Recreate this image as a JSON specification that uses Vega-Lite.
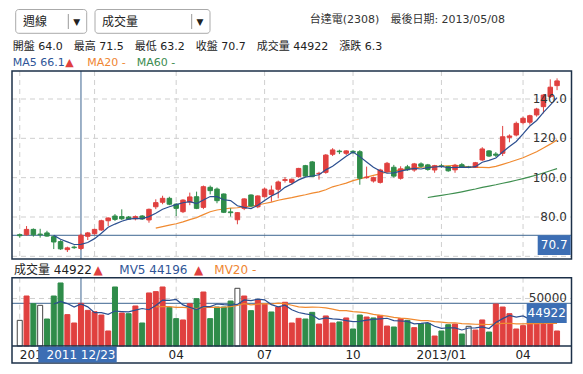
{
"$schema":"https://vega.github.io/schema/vega-lite/v6.json",
"width":583,"height":374,"padding":0,"autosize":{"type":"none"},"background":"white",
"config":{"view":{"stroke":null},"text":{"font":"DejaVu Sans, Noto Sans CJK TC, sans-serif"}},
"data":{"values":[
{"i":0,"o":71.0,"h":71.5,"l":69.5,"c":70.5,"v":27000,"chg":0,"d":"d","vd":"f"},
{"i":1,"o":71.0,"h":75.4,"l":70.5,"c":73.7,"v":52600,"chg":3.2,"d":"u","vd":"u"},
{"i":2,"o":73.7,"h":74.2,"l":70.0,"c":71.0,"v":44500,"chg":-2.7,"d":"d","vd":"d"},
{"i":3,"o":71.3,"h":74.0,"l":69.5,"c":71.0,"v":42800,"chg":0,"d":"d","vd":"f"},
{"i":4,"o":71.9,"h":73.0,"l":70.0,"c":70.3,"v":28400,"chg":-0.7,"d":"d","vd":"d"},
{"i":5,"o":70.0,"h":70.7,"l":63.7,"c":67.3,"v":52600,"chg":-3.0,"d":"d","vd":"d","ma5":70.66,"mv5":44180},
{"i":6,"o":67.5,"h":68.2,"l":63.3,"c":63.8,"v":66300,"chg":-3.5,"d":"d","vd":"d","ma5":68.68,"mv5":46920},
{"i":7,"o":63.4,"h":64.9,"l":62.2,"c":64.3,"v":33000,"chg":0.5,"d":"u","vd":"u","ma5":67.34,"mv5":44620},
{"i":8,"o":64.7,"h":65.5,"l":63.8,"c":64.4,"v":24200,"chg":0.1,"d":"d","vd":"u","ma5":66.02,"mv5":40900},
{"i":9,"o":64.0,"h":71.5,"l":63.2,"c":70.7,"v":44922,"chg":6.3,"d":"u","vd":"u","ma5":66.1,"mv5":44196},
{"i":10,"o":70.2,"h":72.4,"l":68.3,"c":71.9,"v":37500,"chg":1.2,"d":"u","vd":"u","ma5":67.02,"mv5":41180},
{"i":11,"o":71.5,"h":74.0,"l":71.0,"c":73.7,"v":36100,"chg":1.8,"d":"u","vd":"u","ma5":69.0,"mv5":35140},
{"i":12,"o":73.4,"h":78.6,"l":73.0,"c":78.1,"v":32600,"chg":4.4,"d":"u","vd":"u","ma5":71.76,"mv5":35060},
{"i":13,"o":78.1,"h":79.8,"l":75.4,"c":79.5,"v":15800,"chg":1.4,"d":"u","vd":"u","ma5":74.78,"mv5":33380},
{"i":14,"o":80.5,"h":81.5,"l":78.0,"c":78.8,"v":62100,"chg":-0.7,"d":"d","vd":"d","ma5":76.4,"mv5":36820},
{"i":15,"o":80.2,"h":83.9,"l":78.5,"c":79.1,"v":34700,"chg":0.3,"d":"d","vd":"u","ma5":77.84,"mv5":36260},
{"i":16,"o":80.0,"h":80.5,"l":78.5,"c":78.9,"v":34000,"chg":-0.2,"d":"d","vd":"d","ma5":78.88,"mv5":35840},
{"i":17,"o":79.1,"h":80.8,"l":78.3,"c":80.2,"v":42100,"chg":1.3,"d":"u","vd":"u","ma5":79.3,"mv5":37740},
{"i":18,"o":80.5,"h":81.0,"l":78.5,"c":79.0,"v":24200,"chg":-1.2,"d":"d","vd":"d","ma5":79.2,"mv5":39420},
{"i":19,"o":78.5,"h":84.3,"l":77.1,"c":83.9,"v":55800,"chg":4.9,"d":"u","vd":"u","ma5":80.22,"mv5":38160},
{"i":20,"o":85.2,"h":89.0,"l":84.0,"c":87.3,"v":57200,"chg":3.4,"d":"u","vd":"u","ma5":81.86,"ma20":74.35,"mv5":42660,"mv20":41070},
{"i":21,"o":87.5,"h":90.8,"l":86.5,"c":89.5,"v":62100,"chg":2.2,"d":"u","vd":"u","ma5":83.98,"ma20":75.14,"mv5":48280,"mv20":41550},
{"i":22,"o":89.5,"h":90.3,"l":86.0,"c":86.5,"v":40700,"chg":-3.0,"d":"d","vd":"d","ma5":85.24,"ma20":75.91,"mv5":48000,"mv20":41360},
{"i":23,"o":86.5,"h":87.0,"l":80.5,"c":84.4,"v":28800,"chg":-2.1,"d":"d","vd":"d","ma5":86.32,"ma20":76.58,"mv5":48920,"mv20":40660},
{"i":24,"o":82.7,"h":89.0,"l":82.0,"c":88.6,"v":27400,"chg":4.2,"d":"u","vd":"u","ma5":87.26,"ma20":77.5,"mv5":43240,"mv20":40610},
{"i":25,"o":87.6,"h":92.4,"l":86.0,"c":90.2,"v":44500,"chg":1.6,"d":"u","vd":"u","ma5":87.84,"ma20":78.64,"mv5":40700,"mv20":40200},
{"i":26,"o":90.3,"h":92.9,"l":84.0,"c":84.4,"v":49800,"chg":-5.8,"d":"d","vd":"d","ma5":86.82,"ma20":79.67,"mv5":38240,"mv20":39380},
{"i":27,"o":84.9,"h":96.0,"l":84.0,"c":95.4,"v":56800,"chg":11.0,"d":"u","vd":"u","ma5":88.6,"ma20":81.23,"mv5":41460,"mv20":40570},
{"i":28,"o":95.1,"h":96.0,"l":91.5,"c":93.4,"v":28800,"chg":-2.0,"d":"d","vd":"d","ma5":90.4,"ma20":82.68,"mv5":41460,"mv20":40800},
{"i":29,"o":94.2,"h":95.0,"l":87.0,"c":88.3,"v":41000,"chg":-5.1,"d":"d","vd":"d","ma5":90.34,"ma20":83.56,"mv5":44180,"mv20":40600},
{"i":30,"o":91.7,"h":92.0,"l":82.0,"c":82.4,"v":41000,"chg":-5.9,"d":"d","vd":"d","ma5":88.78,"ma20":84.08,"mv5":43480,"mv20":40780},
{"i":31,"o":82.6,"h":84.4,"l":80.2,"c":82.2,"v":47300,"chg":-0.2,"d":"d","vd":"d","ma5":88.34,"ma20":84.5,"mv5":42980,"mv20":41340},
{"i":32,"o":78.6,"h":82.5,"l":76.3,"c":82.2,"v":60700,"chg":0,"d":"u","vd":"f","ma5":85.7,"ma20":84.71,"mv5":43760,"mv20":42740},
{"i":33,"o":84.4,"h":89.5,"l":83.5,"c":89.2,"v":52600,"chg":7.0,"d":"u","vd":"u","ma5":84.86,"ma20":85.2,"mv5":48520,"mv20":44580},
{"i":34,"o":91.2,"h":91.5,"l":85.0,"c":85.6,"v":37200,"chg":-3.6,"d":"d","vd":"d","ma5":84.32,"ma20":85.54,"mv5":47760,"mv20":43340},
{"i":35,"o":85.2,"h":91.0,"l":84.5,"c":90.7,"v":48400,"chg":5.1,"d":"u","vd":"u","ma5":85.98,"ma20":86.12,"mv5":49240,"mv20":44020},
{"i":36,"o":90.3,"h":95.0,"l":90.0,"c":94.2,"v":43800,"chg":3.5,"d":"u","vd":"u","ma5":88.38,"ma20":86.88,"mv5":48540,"mv20":44510},
{"i":37,"o":91.4,"h":96.0,"l":87.8,"c":93.7,"v":35800,"chg":-0.5,"d":"u","vd":"d","ma5":90.68,"ma20":87.56,"mv5":43560,"mv20":44200},
{"i":38,"o":94.1,"h":98.5,"l":89.5,"c":97.8,"v":41000,"chg":4.1,"d":"u","vd":"u","ma5":92.4,"ma20":88.5,"mv5":41240,"mv20":45040},
{"i":39,"o":98.6,"h":100.3,"l":97.5,"c":99.0,"v":46000,"chg":1.2,"d":"u","vd":"u","ma5":95.08,"ma20":89.25,"mv5":43000,"mv20":44550},
{"i":40,"o":97.6,"h":99.5,"l":96.5,"c":99.2,"v":24200,"chg":0.2,"d":"u","vd":"u","ma5":96.78,"ma20":89.85,"mv5":38160,"mv20":42900},
{"i":41,"o":100.5,"h":105.0,"l":100.0,"c":104.7,"v":29100,"chg":5.5,"d":"u","vd":"u","ma5":98.88,"ma20":90.61,"mv5":35220,"mv20":41250},
{"i":42,"o":106.1,"h":106.5,"l":100.5,"c":100.8,"v":28400,"chg":-3.9,"d":"d","vd":"d","ma5":100.3,"ma20":91.32,"mv5":33740,"mv20":40630},
{"i":43,"o":108.0,"h":108.5,"l":100.3,"c":100.6,"v":35400,"chg":-0.2,"d":"d","vd":"d","ma5":100.86,"ma20":92.13,"mv5":32620,"mv20":40960},
{"i":44,"o":102.0,"h":103.0,"l":99.0,"c":102.2,"v":23100,"chg":1.6,"d":"u","vd":"u","ma5":101.5,"ma20":92.81,"mv5":28040,"mv20":40750},
{"i":45,"o":102.7,"h":112.0,"l":102.0,"c":111.5,"v":31600,"chg":9.3,"d":"u","vd":"u","ma5":103.96,"ma20":93.88,"mv5":29520,"mv20":40100},
{"i":46,"o":111.9,"h":115.0,"l":111.0,"c":114.1,"v":24200,"chg":2.6,"d":"u","vd":"u","ma5":105.84,"ma20":95.36,"mv5":28540,"mv20":38820},
{"i":47,"o":113.5,"h":114.2,"l":112.0,"c":113.2,"v":25300,"chg":-0.9,"d":"d","vd":"d","ma5":108.32,"ma20":96.25,"mv5":27920,"mv20":37250},
{"i":48,"o":112.4,"h":114.0,"l":111.5,"c":113.6,"v":29500,"chg":0.4,"d":"u","vd":"u","ma5":110.92,"ma20":97.26,"mv5":26740,"mv20":37280},
{"i":49,"o":113.4,"h":114.0,"l":112.0,"c":112.9,"v":17900,"chg":-0.7,"d":"d","vd":"d","ma5":113.06,"ma20":98.49,"mv5":25700,"mv20":36130},
{"i":50,"o":113.2,"h":114.0,"l":96.4,"c":99.7,"v":32600,"chg":-13.2,"d":"d","vd":"d","ma5":110.7,"ma20":99.36,"mv5":25900,"mv20":35710},
{"i":51,"o":100.0,"h":105.6,"l":99.5,"c":100.3,"v":30500,"chg":0.6,"d":"u","vd":"u","ma5":107.94,"ma20":100.26,"mv5":27160,"mv20":34870},
{"i":52,"o":98.3,"h":100.5,"l":97.5,"c":100.0,"v":29500,"chg":-0.3,"d":"u","vd":"d","ma5":105.3,"ma20":101.15,"mv5":28000,"mv20":33310},
{"i":53,"o":97.6,"h":104.5,"l":97.0,"c":103.9,"v":32300,"chg":3.9,"d":"u","vd":"u","ma5":103.36,"ma20":101.89,"mv5":28560,"mv20":32290},
{"i":54,"o":103.0,"h":108.0,"l":102.5,"c":107.3,"v":21000,"chg":3.4,"d":"u","vd":"u","ma5":102.24,"ma20":102.97,"mv5":29180,"mv20":31480},
{"i":55,"o":105.3,"h":106.5,"l":100.0,"c":100.8,"v":20000,"chg":-6.5,"d":"d","vd":"d","ma5":102.46,"ma20":103.48,"mv5":26660,"mv20":30060},
{"i":56,"o":99.7,"h":105.8,"l":99.0,"c":104.5,"v":28800,"chg":3.7,"d":"u","vd":"u","ma5":103.3,"ma20":103.99,"mv5":26320,"mv20":29310},
{"i":57,"o":105.5,"h":106.5,"l":103.5,"c":104.0,"v":27000,"chg":-0.5,"d":"d","vd":"d","ma5":104.1,"ma20":104.51,"mv5":25820,"mv20":28870},
{"i":58,"o":103.9,"h":107.5,"l":103.0,"c":107.0,"v":19300,"chg":3.0,"d":"u","vd":"u","ma5":104.72,"ma20":104.97,"mv5":23220,"mv20":27790},
{"i":59,"o":107.0,"h":107.8,"l":105.0,"c":105.8,"v":23500,"chg":-1.2,"d":"d","vd":"d","ma5":104.42,"ma20":105.31,"mv5":23720,"mv20":26660},
{"i":60,"o":106.5,"h":107.0,"l":103.5,"c":104.2,"v":23800,"chg":-1.6,"d":"d","vd":"d","ma5":105.1,"ma20":105.56,"ma60":89.92,"mv5":24480,"mv20":26640},
{"i":61,"o":103.9,"h":106.5,"l":102.5,"c":106.1,"v":10500,"chg":1.9,"d":"u","vd":"u","ma5":105.42,"ma20":105.63,"ma60":90.46,"mv5":20820,"mv20":25710},
{"i":62,"o":106.0,"h":107.0,"l":105.0,"c":105.7,"v":15800,"chg":-0.4,"d":"d","vd":"d","ma5":105.76,"ma20":105.87,"ma60":91.03,"mv5":18580,"mv20":25080},
{"i":63,"o":105.6,"h":106.0,"l":103.0,"c":103.5,"v":22400,"chg":-2.2,"d":"d","vd":"d","ma5":105.06,"ma20":106.02,"ma60":91.58,"mv5":19200,"mv20":24430},
{"i":64,"o":104.0,"h":107.0,"l":102.5,"c":106.3,"v":23100,"chg":2.8,"d":"u","vd":"u","ma5":105.16,"ma20":106.22,"ma60":92.18,"mv5":19120,"mv20":24430},
{"i":65,"o":106.6,"h":107.5,"l":105.0,"c":105.3,"v":12600,"chg":-1.0,"d":"d","vd":"d","ma5":105.38,"ma20":105.91,"ma60":92.81,"mv5":16880,"mv20":23480},
{"i":66,"o":105.4,"h":106.0,"l":104.8,"c":105.3,"v":20700,"chg":0,"d":"d","vd":"f","ma5":105.22,"ma20":105.47,"ma60":93.5,"mv5":18920,"mv20":23310},
{"i":67,"o":105.3,"h":108.0,"l":105.0,"c":107.6,"v":16800,"chg":2.3,"d":"u","vd":"u","ma5":105.6,"ma20":105.19,"ma60":94.22,"mv5":19120,"mv20":22880},
{"i":68,"o":109.0,"h":115.5,"l":108.5,"c":114.6,"v":27400,"chg":7.0,"d":"u","vd":"u","ma5":107.82,"ma20":105.24,"ma60":95.06,"mv5":20120,"mv20":22780},
{"i":69,"o":113.6,"h":114.0,"l":110.5,"c":111.0,"v":14700,"chg":-3.6,"d":"d","vd":"d","ma5":108.76,"ma20":105.15,"ma60":95.73,"mv5":18440,"mv20":22620},
{"i":70,"o":112.0,"h":113.0,"l":110.5,"c":111.4,"v":44200,"chg":0.4,"d":"d","vd":"u","ma5":109.98,"ma20":105.73,"ma60":96.39,"mv5":24760,"mv20":23200},
{"i":71,"o":112.4,"h":126.3,"l":111.0,"c":120.8,"v":41000,"chg":9.4,"d":"u","vd":"u","ma5":113.08,"ma20":106.76,"ma60":97.17,"mv5":28820,"mv20":23720},
{"i":72,"o":120.5,"h":122.0,"l":118.0,"c":121.2,"v":34000,"chg":0.4,"d":"u","vd":"u","ma5":115.8,"ma20":107.82,"ma60":97.89,"mv5":32260,"mv20":23950},
{"i":73,"o":121.7,"h":128.5,"l":121.0,"c":127.6,"v":17900,"chg":6.4,"d":"u","vd":"u","ma5":118.4,"ma20":109.0,"ma60":98.69,"mv5":30360,"mv20":23230},
{"i":74,"o":128.0,"h":131.0,"l":127.0,"c":130.2,"v":21400,"chg":2.6,"d":"u","vd":"u","ma5":122.24,"ma20":110.15,"ma60":99.55,"mv5":31700,"mv20":23250},
{"i":75,"o":128.2,"h":132.0,"l":127.0,"c":131.5,"v":26000,"chg":1.3,"d":"u","vd":"u","ma5":126.26,"ma20":111.68,"ma60":100.42,"mv5":28060,"mv20":23550},
{"i":76,"o":131.9,"h":135.5,"l":131.0,"c":134.9,"v":28000,"chg":3.4,"d":"u","vd":"u","ma5":129.08,"ma20":113.2,"ma60":101.36,"mv5":25460,"mv20":23510},
{"i":77,"o":136.1,"h":142.5,"l":132.7,"c":142.0,"v":30000,"chg":7.1,"d":"u","vd":"u","ma5":133.24,"ma20":115.1,"ma60":102.39,"mv5":24660,"mv20":23660},
{"i":78,"o":141.2,"h":150.0,"l":140.5,"c":146.0,"v":27000,"chg":4.0,"d":"u","vd":"u","ma5":136.92,"ma20":117.05,"ma60":103.5,"mv5":26480,"mv20":24040},
{"i":79,"o":146.8,"h":150.5,"l":144.5,"c":149.2,"v":15800,"chg":3.2,"d":"u","vd":"u","ma5":140.72,"ma20":119.22,"ma60":104.59,"mv5":25360,"mv20":23660}
]},
"resolve":{"scale":{"y":"independent"}},
"layer":[
{"data":{"values":[{"p":60},{"p":80},{"p":100},{"p":120},{"p":140}]},"mark":{"type":"rule","stroke":"#cfcfcf","strokeDash":[5,4],"strokeWidth":1},
 "encoding":{"y":{"field":"p","type":"quantitative","scale":{"domain":[0.17,190.34],"nice":false,"zero":false},"axis":null},"x":{"value":12},"x2":{"value":571.5}}},
{"data":{"values":[{"i":0},{"i":11},{"i":23},{"i":36},{"i":49},{"i":62},{"i":74}]},"mark":{"type":"rule","stroke":"#cfcfcf","strokeDash":[5,4],"strokeWidth":1},
 "encoding":{"x":{"field":"i","type":"quantitative","scale":{"domain":[-2.17,82.08],"nice":false,"zero":false},"axis":null},"y":{"value":71},"y2":{"value":259}}},
{"data":{"values":[{"i":0},{"i":11},{"i":23},{"i":36},{"i":49},{"i":62},{"i":74}]},"mark":{"type":"rule","stroke":"#cfcfcf","strokeDash":[5,4],"strokeWidth":1},
 "encoding":{"x":{"field":"i","type":"quantitative","scale":{"domain":[-2.17,82.08],"nice":false,"zero":false},"axis":null},"y":{"value":277.7},"y2":{"value":346}}},
{"data":{"values":[{"v":50000}]},"mark":{"type":"rule","stroke":"#cfcfcf","strokeDash":[5,4],"strokeWidth":1},
 "encoding":{"y":{"field":"v","type":"quantitative","scale":{"domain":[-29458,364019],"nice":false,"zero":false},"axis":null},"x":{"value":12},"x2":{"value":571.5}}},
{"data":{"values":[{"i":9,"c":70.7,"v":44922}]},"mark":{"type":"rule","stroke":"#3d6590","strokeWidth":1},
 "encoding":{"y":{"field":"c","type":"quantitative","scale":{"domain":[0.17,190.34],"nice":false,"zero":false},"axis":null},"x":{"value":12},"x2":{"value":571.5}}},
{"data":{"values":[{"i":9,"c":70.7,"v":44922}]},"mark":{"type":"rule","stroke":"#3d6590","strokeWidth":1},
 "encoding":{"x":{"field":"i","type":"quantitative","scale":{"domain":[-2.17,82.08],"nice":false,"zero":false},"axis":null},"y":{"value":71},"y2":{"value":259}}},
{"data":{"values":[{"i":9,"c":70.7,"v":44922}]},"mark":{"type":"rule","stroke":"#3d6590","strokeWidth":1},
 "encoding":{"y":{"field":"v","type":"quantitative","scale":{"domain":[-29458,364019],"nice":false,"zero":false},"axis":null},"x":{"value":12},"x2":{"value":571.5}}},
{"data":{"values":[{"i":9,"c":70.7,"v":44922}]},"mark":{"type":"rule","stroke":"#3d6590","strokeWidth":1},
 "encoding":{"x":{"field":"i","type":"quantitative","scale":{"domain":[-2.17,82.08],"nice":false,"zero":false},"axis":null},"y":{"value":277.7},"y2":{"value":346}}},
{"mark":{"type":"line","stroke":"#3f8f50","strokeWidth":1.2},
 "encoding":{"x":{"field":"i","type":"quantitative","scale":{"domain":[-2.17,82.08],"nice":false,"zero":false},"axis":null},
 "y":{"field":"ma60","type":"quantitative","scale":{"domain":[0.17,190.34],"nice":false,"zero":false},"axis":null}}},
{"mark":{"type":"line","stroke":"#f08a30","strokeWidth":1.2},
 "encoding":{"x":{"field":"i","type":"quantitative","scale":{"domain":[-2.17,82.08],"nice":false,"zero":false},"axis":null},
 "y":{"field":"ma20","type":"quantitative","scale":{"domain":[0.17,190.34],"nice":false,"zero":false},"axis":null}}},
{"mark":{"type":"rule","strokeWidth":1},
 "encoding":{"x":{"field":"i","type":"quantitative","scale":{"domain":[-2.17,82.08],"nice":false,"zero":false},"axis":null},
 "y":{"field":"l","type":"quantitative","scale":{"domain":[0.17,190.34],"nice":false,"zero":false},"axis":null},"y2":{"field":"h"},
 "stroke":{"field":"d","type":"nominal","scale":{"domain":["u","d","f"],"range":["#e0403f","#2f8c4a","#444444"]},"legend":null}}},
{"mark":{"type":"bar","size":4.5,"strokeWidth":1},
 "encoding":{"x":{"field":"i","type":"quantitative","scale":{"domain":[-2.17,82.08],"nice":false,"zero":false},"axis":null},
 "y":{"field":"o","type":"quantitative","scale":{"domain":[0.17,190.34],"nice":false,"zero":false},"axis":null},"y2":{"field":"c"},
 "fill":{"field":"d","type":"nominal","scale":{"domain":["u","d","f"],"range":["#e0403f","#2f8c4a","#ffffff"]},"legend":null},
 "stroke":{"field":"d","type":"nominal","scale":{"domain":["u","d","f"],"range":["#e0403f","#2f8c4a","#444444"]},"legend":null}}},
{"mark":{"type":"line","stroke":"#2c4f90","strokeWidth":1.2},
 "encoding":{"x":{"field":"i","type":"quantitative","scale":{"domain":[-2.17,82.08],"nice":false,"zero":false},"axis":null},
 "y":{"field":"ma5","type":"quantitative","scale":{"domain":[0.17,190.34],"nice":false,"zero":false},"axis":null}}},
{"mark":{"type":"bar","size":5,"strokeWidth":1},
 "encoding":{"x":{"field":"i","type":"quantitative","scale":{"domain":[-2.17,82.08],"nice":false,"zero":false},"axis":null},
 "y":{"field":"v","type":"quantitative","scale":{"domain":[-29458,364019],"nice":false,"zero":false},"axis":null},
 "fill":{"field":"vd","type":"nominal","scale":{"domain":["u","d","f"],"range":["#e0403f","#2f8c4a","#ffffff"]},"legend":null},
 "stroke":{"field":"vd","type":"nominal","scale":{"domain":["u","d","f"],"range":["#e0403f","#2f8c4a","#444444"]},"legend":null}}},
{"mark":{"type":"line","stroke":"#f08a30","strokeWidth":1.2},
 "encoding":{"x":{"field":"i","type":"quantitative","scale":{"domain":[-2.17,82.08],"nice":false,"zero":false},"axis":null},
 "y":{"field":"mv20","type":"quantitative","scale":{"domain":[-29458,364019],"nice":false,"zero":false},"axis":null}}},
{"mark":{"type":"line","stroke":"#2c4f90","strokeWidth":1.2},
 "encoding":{"x":{"field":"i","type":"quantitative","scale":{"domain":[-2.17,82.08],"nice":false,"zero":false},"axis":null},
 "y":{"field":"mv5","type":"quantitative","scale":{"domain":[-29458,364019],"nice":false,"zero":false},"axis":null}}},
{"data":{"values":[{"p":80},{"p":100},{"p":120},{"p":140}]},"mark":{"type":"text","fontSize":12,"fill":"#333","align":"right","baseline":"middle"},
 "encoding":{"y":{"field":"p","type":"quantitative","scale":{"domain":[0.17,190.34],"nice":false,"zero":false},"axis":null},"x":{"value":567},"text":{"field":"p","type":"quantitative","format":".1f"}}},
{"data":{"values":[{"v":50000}]},"mark":{"type":"text","fontSize":12,"fill":"#333","align":"right","baseline":"middle"},
 "encoding":{"y":{"field":"v","type":"quantitative","scale":{"domain":[-29458,364019],"nice":false,"zero":false},"axis":null},"x":{"value":567},"text":{"field":"v","type":"quantitative","format":"d"}}},
{"data":{"values":[{"i":0,"lab":"201"}]},"mark":{"type":"text","fontSize":12,"fill":"#222","align":"left","baseline":"middle"},
 "encoding":{"x":{"field":"i","type":"quantitative","scale":{"domain":[-2.17,82.08],"nice":false,"zero":false},"axis":null},"y":{"value":355},"text":{"field":"lab","type":"nominal"}}},
{"data":{"values":[{"i":23,"lab":"04"},{"i":36,"lab":"07"},{"i":49,"lab":"10"},{"i":62,"lab":"2013/01"},{"i":74,"lab":"04"}]},"mark":{"type":"text","fontSize":12,"fill":"#222","align":"center","baseline":"middle"},
 "encoding":{"x":{"field":"i","type":"quantitative","scale":{"domain":[-2.17,82.08],"nice":false,"zero":false},"axis":null},"y":{"value":355},"text":{"field":"lab","type":"nominal"}}},
{"data":{"values":[{}]},"mark":{"type":"rect","filled":false,"stroke":"#1c3048","strokeWidth":1.5},
 "encoding":{"x":{"value":12},"x2":{"value":571.5},"y":{"value":71},"y2":{"value":259}}},
{"data":{"values":[{}]},"mark":{"type":"rect","filled":false,"stroke":"#1c3048","strokeWidth":1.5},
 "encoding":{"x":{"value":12},"x2":{"value":571.5},"y":{"value":277.7},"y2":{"value":363}}},
{"data":{"values":[{}]},"mark":{"type":"rule","stroke":"#1c3048","strokeWidth":1.5},
 "encoding":{"x":{"value":12},"x2":{"value":571.5},"y":{"value":346}}},
{"data":{"values":[{"i":9,"c":70.7,"v":44922,"date":"2011 12/23"}]},"mark":{"type":"rect","fill":"#3c6eb4"},
 "encoding":{"y":{"field":"c","type":"quantitative","scale":{"domain":[0.17,190.34],"nice":false,"zero":false},"axis":null},"y2":{"value":255},"x":{"value":537.7},"x2":{"value":570.7}}},
{"data":{"values":[{"i":9,"c":70.7,"v":44922,"date":"2011 12/23"}]},"mark":{"type":"text","fill":"white","fontSize":12,"align":"center","baseline":"middle","dy":9.5},
 "encoding":{"y":{"field":"c","type":"quantitative","scale":{"domain":[0.17,190.34],"nice":false,"zero":false},"axis":null},"x":{"value":554.2},"text":{"field":"c","type":"quantitative","format":".1f"}}},
{"data":{"values":[{"i":9,"c":70.7,"v":44922,"date":"2011 12/23"}]},"mark":{"type":"rect","fill":"#3c6eb4"},
 "encoding":{"y":{"field":"v","type":"quantitative","scale":{"domain":[-29458,364019],"nice":false,"zero":false},"axis":null},"y2":{"value":323},"x":{"value":526.7},"x2":{"value":566.7}}},
{"data":{"values":[{"i":9,"c":70.7,"v":44922,"date":"2011 12/23"}]},"mark":{"type":"text","fill":"white","fontSize":12,"align":"center","baseline":"middle","dy":10},
 "encoding":{"y":{"field":"v","type":"quantitative","scale":{"domain":[-29458,364019],"nice":false,"zero":false},"axis":null},"x":{"value":546.7},"text":{"field":"v","type":"quantitative","format":"d"}}},
{"data":{"values":[{}]},"mark":{"type":"rect","fill":"#3c6eb4"},
 "encoding":{"x":{"value":38.3},"x2":{"value":116.7},"y":{"value":346.7},"y2":{"value":362.5}}},
{"data":{"values":[{"i":9,"c":70.7,"v":44922,"date":"2011 12/23"}]},"mark":{"type":"text","fill":"white","fontSize":12,"align":"center","baseline":"middle"},
 "encoding":{"x":{"field":"i","type":"quantitative","scale":{"domain":[-2.17,82.08],"nice":false,"zero":false},"axis":null},"y":{"value":355},"text":{"field":"date","type":"nominal"}}},
{"data":{"values":[{}]},"mark":{"type":"rect","fill":"white","stroke":"#aaaaaa","strokeWidth":1,"cornerRadius":3},
 "encoding":{"x":{"value":15.7},"x2":{"value":86.7},"y":{"value":9.5},"y2":{"value":33.3}}},
{"data":{"values":[{}]},"mark":{"type":"rect","fill":"white","stroke":"#aaaaaa","strokeWidth":1,"cornerRadius":3},
 "encoding":{"x":{"value":95},"x2":{"value":210},"y":{"value":9.5},"y2":{"value":33.3}}},
{"data":{"values":[{}]},"mark":{"type":"rule","stroke":"#999999","strokeWidth":1},
 "encoding":{"x":{"value":68.3},"y":{"value":14},"y2":{"value":29}}},
{"data":{"values":[{}]},"mark":{"type":"rule","stroke":"#999999","strokeWidth":1},
 "encoding":{"x":{"value":191.7},"y":{"value":14},"y2":{"value":29}}},
{"data":{"values":[{}]},"mark":{"type":"text","fontSize":12,"fill":"#222","align":"left","baseline":"middle"},
 "encoding":{"x":{"value":23},"y":{"value":21.5},"text":{"value":"週線"}}},
{"data":{"values":[{}]},"mark":{"type":"text","fontSize":12,"fill":"#222","align":"left","baseline":"middle"},
 "encoding":{"x":{"value":102},"y":{"value":21.5},"text":{"value":"成交量"}}},
{"data":{"values":[{}]},"mark":{"type":"text","fontSize":9,"fill":"#222","align":"center","baseline":"middle"},
 "encoding":{"x":{"value":76.7},"y":{"value":21.5},"text":{"value":"▼"}}},
{"data":{"values":[{}]},"mark":{"type":"text","fontSize":9,"fill":"#222","align":"center","baseline":"middle"},
 "encoding":{"x":{"value":200},"y":{"value":21.5},"text":{"value":"▼"}}},
{"data":{"values":[{}]},"mark":{"type":"text","fontSize":11,"fill":"#333","align":"right","baseline":"middle"},
 "encoding":{"x":{"value":505},"y":{"value":20},"text":{"value":"台達電(2308)\u2002\u2002最後日期: 2013/05/08"}}},
{"data":{"values":[{}]},"mark":{"type":"text","fontSize":11,"fill":"#222","align":"left","baseline":"middle"},
 "encoding":{"x":{"value":12.7},"y":{"value":47},"text":{"value":"開盤 64.0\u2002\u2002最高 71.5\u2002\u2002最低 63.2\u2002\u2002收盤 70.7\u2002\u2002成交量 44922\u2002\u2002漲跌 6.3"}}},
{"data":{"values":[{}]},"mark":{"type":"text","fontSize":11,"fill":"#2f5597","align":"left","baseline":"middle"},
 "encoding":{"x":{"value":12.7},"y":{"value":63},"text":{"value":"MA5 66.1"}}},
{"data":{"values":[{}]},"mark":{"type":"text","fontSize":11,"fill":"#e0403f","align":"left","baseline":"middle"},
 "encoding":{"x":{"value":65.3},"y":{"value":63},"text":{"value":"▲"}}},
{"data":{"values":[{}]},"mark":{"type":"text","fontSize":11,"fill":"#ef8633","align":"left","baseline":"middle"},
 "encoding":{"x":{"value":87.3},"y":{"value":63},"text":{"value":"MA20 -"}}},
{"data":{"values":[{}]},"mark":{"type":"text","fontSize":11,"fill":"#3c8c50","align":"left","baseline":"middle"},
 "encoding":{"x":{"value":136.7},"y":{"value":63},"text":{"value":"MA60 -"}}},
{"data":{"values":[{}]},"mark":{"type":"text","fontSize":12,"fill":"#222","align":"left","baseline":"middle"},
 "encoding":{"x":{"value":14},"y":{"value":270},"text":{"value":"成交量 44922"}}},
{"data":{"values":[{}]},"mark":{"type":"text","fontSize":12,"fill":"#e0403f","align":"left","baseline":"middle"},
 "encoding":{"x":{"value":93.5},"y":{"value":270},"text":{"value":"▲"}}},
{"data":{"values":[{}]},"mark":{"type":"text","fontSize":12,"fill":"#2f5597","align":"left","baseline":"middle"},
 "encoding":{"x":{"value":119.3},"y":{"value":270},"text":{"value":"MV5 44196"}}},
{"data":{"values":[{}]},"mark":{"type":"text","fontSize":12,"fill":"#e0403f","align":"left","baseline":"middle"},
 "encoding":{"x":{"value":194},"y":{"value":270},"text":{"value":"▲"}}},
{"data":{"values":[{}]},"mark":{"type":"text","fontSize":12,"fill":"#ef8633","align":"left","baseline":"middle"},
 "encoding":{"x":{"value":214.3},"y":{"value":270},"text":{"value":"MV20 -"}}}
]
}
